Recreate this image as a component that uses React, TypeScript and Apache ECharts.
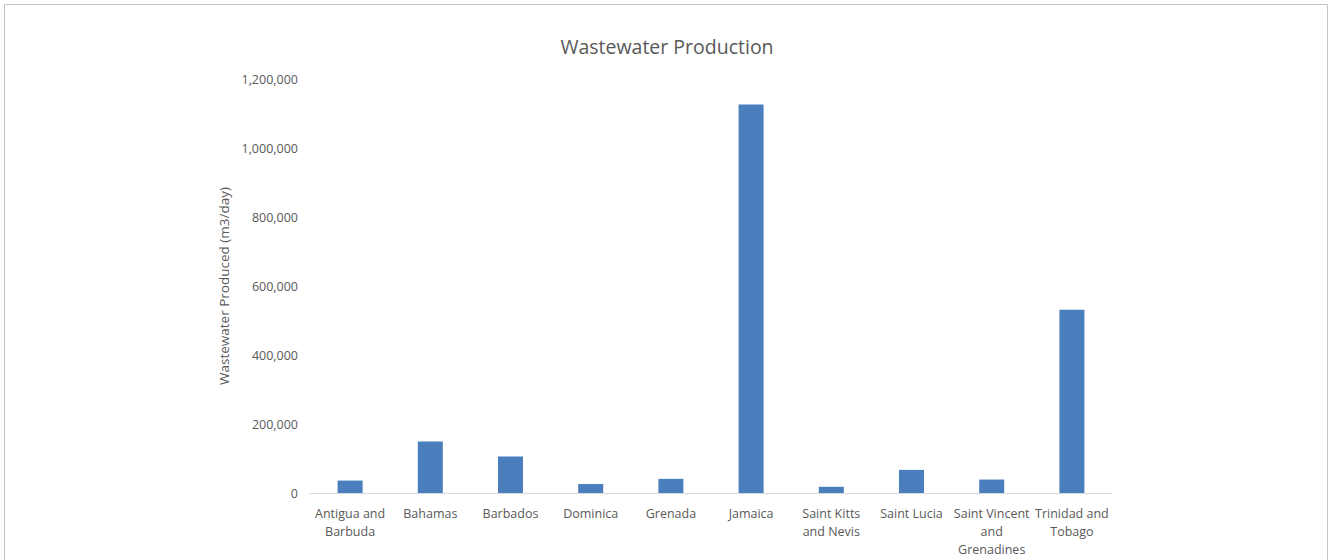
import React, { useEffect, useRef } from "react";
import * as echarts from "echarts";

// Countries on the category axis
const countries = [
  "Antigua and Barbuda",
  "Bahamas",
  "Barbados",
  "Dominica",
  "Grenada",
  "Jamaica",
  "Saint Kitts and Nevis",
  "Saint Lucia",
  "Saint Vincent and Grenadines",
  "Trinidad and Tobago",
];

// Wrapped tick labels shown under each bar
const countryLabels = [
  "Antigua and\nBarbuda",
  "Bahamas",
  "Barbados",
  "Dominica",
  "Grenada",
  "Jamaica",
  "Saint Kitts\nand Nevis",
  "Saint Lucia",
  "Saint Vincent\nand\nGrenadines",
  "Trinidad and\nTobago",
];

// Wastewater produced, m3/day
const wastewater = [36000, 149000, 106000, 26000, 41000, 1126000, 18000, 67000, 39000, 531000];

const FONT = "'Open Sans', 'Noto Sans', sans-serif";
const GREY = "#595959";

export default function App() {
  const ref = useRef<HTMLDivElement>(null);

  useEffect(() => {
    if (!ref.current) return;
    const chart = echarts.init(ref.current, undefined, { renderer: "svg" });
    chart.setOption({
      animation: false,
      backgroundColor: "#ffffff",
      title: {
        text: "Wastewater Production",
        left: 662,
        top: 31,
        textAlign: "center",
        textStyle: { fontFamily: FONT, fontSize: 19.5, fontWeight: "normal", color: GREY },
      },
      grid: { left: 310, right: 216, top: 79, bottom: 67, containLabel: false },
      xAxis: {
        type: "category",
        data: countries,
        axisLine: { show: true, lineStyle: { color: "#d9d9d9", width: 1 } },
        axisTick: { show: false },
        axisLabel: {
          interval: 0,
          margin: 11,
          fontFamily: FONT,
          fontSize: 12.5,
          lineHeight: 18,
          color: GREY,
          formatter: (_v: string, i: number) => countryLabels[i],
        },
      },
      yAxis: {
        type: "value",
        min: 0,
        max: 1200000,
        interval: 200000,
        name: "Wastewater Produced (m3/day)",
        nameLocation: "middle",
        nameGap: 78,
        nameTextStyle: { fontFamily: FONT, fontSize: 13.5, color: GREY },
        axisLine: { show: false },
        axisTick: { show: false },
        splitLine: { show: false },
        axisLabel: {
          margin: 12,
          fontFamily: FONT,
          fontSize: 12.5,
          color: GREY,
          formatter: (v: number) => v.toLocaleString("en-US"),
        },
      },
      series: [
        {
          type: "bar",
          data: wastewater,
          barWidth: 25,
          itemStyle: { color: "#4a7ebd" },
        },
      ],
      graphic: [
        {
          type: "rect",
          silent: true,
          shape: { x: 4.5, y: 4.5, width: 1323, height: 620 },
          style: { fill: "none", stroke: "#c4c4c4", lineWidth: 1 },
        },
      ],
    });
    return () => chart.dispose();
  }, []);

  return (
    <div
      ref={ref}
      style={{ position: "fixed", left: 0, top: 0, width: 1328, height: 560 }}
    />
  );
}
